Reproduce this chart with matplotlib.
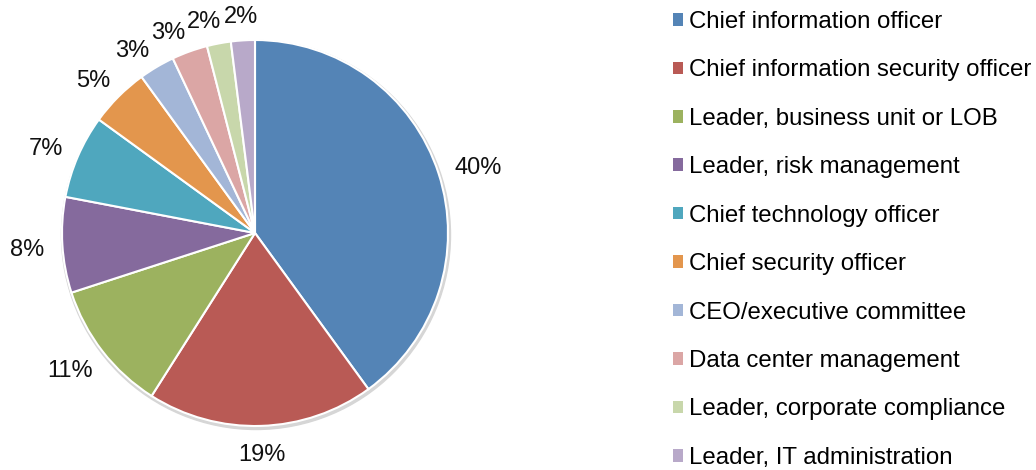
import matplotlib
matplotlib.use("Agg")
import matplotlib.pyplot as plt
import numpy as np
from matplotlib.patches import Patch, Circle

plt.rcParams['font.family'] = ['Liberation Sans', 'DejaVu Sans']

roles = ["Chief information officer", "Chief information security officer",
         "Leader, business unit or LOB", "Leader, risk management",
         "Chief technology officer", "Chief security officer",
         "CEO/executive committee", "Data center management",
         "Leader, corporate compliance", "Leader, IT administration"]
shares = [40, 19, 11, 8, 7, 5, 3, 3, 2, 2]
labels = ["40%", "19%", "11%", "8%", "7%", "5%", "3%", "3%", "2%", "2%"]
colors = ['#5484B6', '#B95A55', '#9CB25F', '#856A9D', '#4FA7BE',
          '#E3964D', '#A3B6D7', '#DBA6A5', '#C8D7AB', '#B8A9C9']

W, H = 1036, 470
fig = plt.figure(figsize=(W / 100, H / 100), dpi=100)
ax = fig.add_axes([0, 0, 1, 1])
ax.set_xlim(0, W)
ax.set_ylim(0, H)
ax.set_aspect('equal')
ax.axis('off')

cx, cy, r = 255, H - 233, 193

# soft shadow under the pie
ax.add_patch(Circle((cx + 1, cy - 2), r + 1.5, color='#d6d6d6', zorder=0))

wedges, _ = ax.pie(shares, colors=colors, startangle=90, counterclock=False,
                   center=(cx, cy), radius=r,
                   wedgeprops=dict(edgecolor='white', linewidth=1.5))
ax.set_xlim(0, W)
ax.set_ylim(0, H)

# percentage labels just outside each slice, pushed apart if they collide
fig.canvas.draw()
renderer = fig.canvas.get_renderer()
gap = 18
hh = 8.5


def place(ang, hw):
    ux, uy = np.cos(ang), np.sin(ang)
    return cx + (r + gap + hw) * ux, cy + (r + gap + hh) * uy - 3


def box(pos, hw):
    return pos[0] - hw, pos[0] + hw, pos[1] - hh, pos[1] + hh


def hits(a, b):
    return a[0] < b[1] + 1 and b[0] < a[1] + 1 and a[2] < b[3] + 1 and b[2] < a[3] + 1


texts = []
for w, lab in zip(wedges, labels):
    t = ax.text(0, 0, lab, fontsize=17, ha='center', va='center', color='#111111')
    hw = t.get_window_extent(renderer).width / 2
    ang = np.deg2rad((w.theta1 + w.theta2) / 2)
    texts.append([t, hw, ang])

prev = None
for item in reversed(texts):
    t, hw, ang = item
    pos = place(ang, hw)
    while prev is not None and hits(box(pos, hw), prev):
        ang += np.deg2rad(0.5)
        pos = place(ang, hw)
    t.set_position(pos)
    prev = box(pos, hw)

handles = [Patch(facecolor=c, edgecolor='none') for c in colors]
fig.legend(handles, roles, loc='upper left', bbox_to_anchor=(673 / W, 1 - 11 / H),
           frameon=False, fontsize=17.3, handlelength=0.42, handleheight=0.42,
           handletextpad=0.25, labelspacing=1.1, borderpad=0, borderaxespad=0)

fig.savefig("out.png", dpi=100)
